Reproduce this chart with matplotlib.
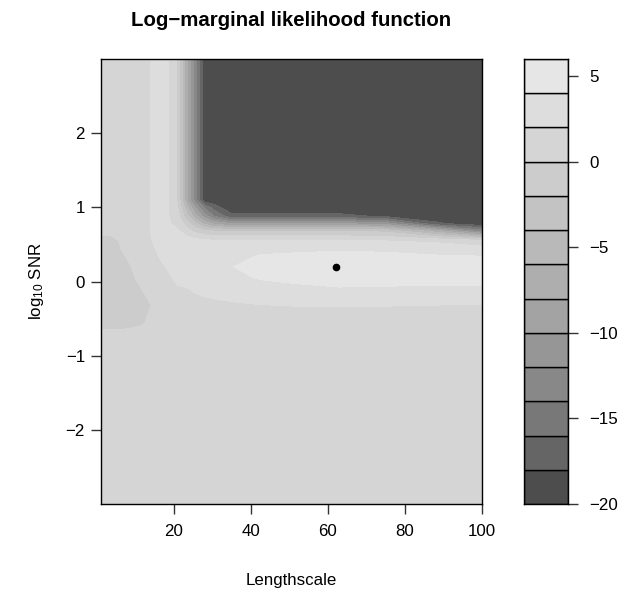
import numpy as np
import matplotlib
matplotlib.use('Agg')
import matplotlib.pyplot as plt

plt.rcParams['font.family'] = ['Liberation Sans', 'DejaVu Sans']
plt.rcParams['mathtext.default'] = 'regular'

# grid nodes
lengthscale = [1, 4, 8, 11.5, 13.8, 16.2, 18.6, 21, 23.5, 25.5, 28, 30.5,
               34.8, 42.5, 51, 63, 75, 88, 100]
log10_snr = [-3, -2, -1, -0.75, -0.55, -0.32, -0.1, 0.05, 0.2, 0.35, 0.42,
             0.55, 0.68, 0.78, 0.88, 1.0, 1.1, 1.5, 2, 3]

# log-marginal likelihood, one row per log10_snr value
flat_row = [1.0] * 19
upper_row = [1, 1, 1, 1, 1.95, 3.3, 1.95, -0.2, -8, -13, -19.5, -19.5,
             -19.5, -19.5, -19.5, -19.5, -19.5, -19.5, -19.5]
loglik = [
    flat_row,
    flat_row,
    flat_row,
    flat_row,
    [-1.0, -1.0, -0.8, -0.3, 0.4, 0.8, 1.0, 1.1, 1.1, 1.1, 1.1, 1.1,
     1.1, 1.1, 1.1, 1.1, 1.1, 1.1, 1.1],
    [-1.2, -1.2, -1.1, -0.6, -0.1, 0.6, 1.0, 1.2, 1.3, 1.4, 1.45, 1.55,
     1.7, 1.95, 2.05, 2.1, 2.05, 1.98, 1.9],
    [-1.2, -1.2, -1.0, -0.05, 0.7, 1.0, 1.3, 1.7, 1.9, 2.2, 2.5, 2.7,
     3.0, 3.4, 3.7, 3.9, 3.85, 3.85, 3.85],
    [-1.2, -1.2, -0.6, 0.5, 0.9, 1.2, 1.6, 2.6, 3.0, 3.2, 3.3, 3.4,
     3.6, 4.12, 4.3, 4.5, 4.45, 4.35, 4.3],
    [-1.2, -1.1, -0.3, 0.8, 1.1, 1.5, 2.3, 3.0, 3.3, 3.5, 3.6, 3.7,
     3.95, 4.5, 4.8, 5.4, 5.2, 5.0, 4.8],
    [-1.2, -1.0, 0.2, 0.9, 1.2, 2.1, 3.1, 3.4, 3.5, 3.5, 3.4, 3.4,
     3.4, 4.08, 4.15, 4.3, 4.25, 4.05, 3.95],
    [-1.2, -0.8, 0.5, 1.0, 1.3, 2.3, 3.2, 3.4, 3.4, 3.4, 3.3, 3.3,
     3.2, 3.6, 3.85, 3.95, 3.85, 3.6, 3.2],
    [-1.6, -0.9, 1.3, 1.1, 1.6, 3.5, 3.6, 3.4, 3.0, 2.7, 2.4, 2.2,
     2.05, 2.05, 2.05, 2.05, 1.95, 1.6, 0.5],
    [1.0, 1.0, 1.0, 1.2, 1.95, 3.4, 3.1, 2.3, 0.8, -0.5, -1.5, -2.0,
     -2.0, -2.0, -2.0, -2.0, -2.5, -7.0, -13.0],
    [1, 1, 1, 1, 1.95, 3.3, 2.3, 1.3, -1.0, -3.5, -6.5, -8.5,
     -10, -10, -10, -10, -11, -17.5, -19.5],
    [1, 1, 1, 1, 1.95, 3.3, 2.1, 0.8, -3.5, -7, -11, -14,
     -17.2, -17.3, -17.3, -17.4, -18.3, -19.5, -19.5],
    [1, 1, 1, 1, 1.95, 3.3, 1.97, 0.1, -5.5, -10, -14.5, -17,
     -19.5, -19.5, -19.5, -19.5, -19.5, -19.5, -19.5],
    upper_row,
    upper_row,
    upper_row,
    upper_row,
]

levels = list(range(-20, 7, 2))
key_ticks = [-20, -15, -10, -5, 0, 5]
x_ticks = [20, 40, 60, 80, 100]
y_ticks = [-2, -1, 0, 1, 2]
best_lengthscale = 62.2
best_log10_snr = 0.2

# R's gray.colors(13)
n = len(levels) - 1
g = np.linspace(0.3 ** 2.2, 0.9 ** 2.2, n) ** (1 / 2.2)
cols = [(v, v, v) for v in g]

fs = 12.2
fig = plt.figure(figsize=(6.21, 5.96), dpi=100)

ax = fig.add_axes([0.16216, 0.15436, 0.61353, 0.74664])
ax.contourf(lengthscale, log10_snr, loglik, levels=levels, colors=cols)
ax.plot(best_lengthscale, best_log10_snr, 'o', color='black', ms=4.5)
ax.set_xlim(1, 100)
ax.set_ylim(-3, 3)
ax.set_xticks(x_ticks)
ax.set_yticks(y_ticks)
ax.tick_params(axis='both', direction='out', length=7.3, width=1,
               labelsize=fs, color='#333333')
ax.tick_params(axis='x', pad=7)
ax.tick_params(axis='y', pad=4)
for s in ax.spines.values():
    s.set_linewidth(1.0)

# colour key
ax2 = fig.add_axes([0.84380, 0.15436, 0.07037, 0.74664])
ax2.bar(0.5, 2, bottom=levels[:-1], width=1.0, color=cols,
        edgecolor='black', linewidth=1.0)
ax2.set_xlim(0, 1)
ax2.set_ylim(-20, 6)
ax2.set_xticks([])
ax2.yaxis.tick_right()
ax2.set_yticks(key_ticks)
ax2.tick_params(axis='y', direction='out', length=7.3, width=1,
                labelsize=fs, pad=8, color='#333333')
for s in ax2.spines.values():
    s.set_linewidth(1.0)

fig.text(0.4689, 1 - 25.5 / 596, 'Log\u2212marginal likelihood function',
         ha='center', va='baseline', fontsize=14.7, fontweight='bold')
fig.text(0.4689, 1 - 580 / 596, 'Lengthscale', ha='center', va='center',
         fontsize=fs)
fig.text(36 / 621, 1 - 281.5 / 596, 'log$_{10}$ SNR', ha='center',
         va='center', rotation=90, fontsize=fs)

plt.savefig('out.png', dpi=100)
